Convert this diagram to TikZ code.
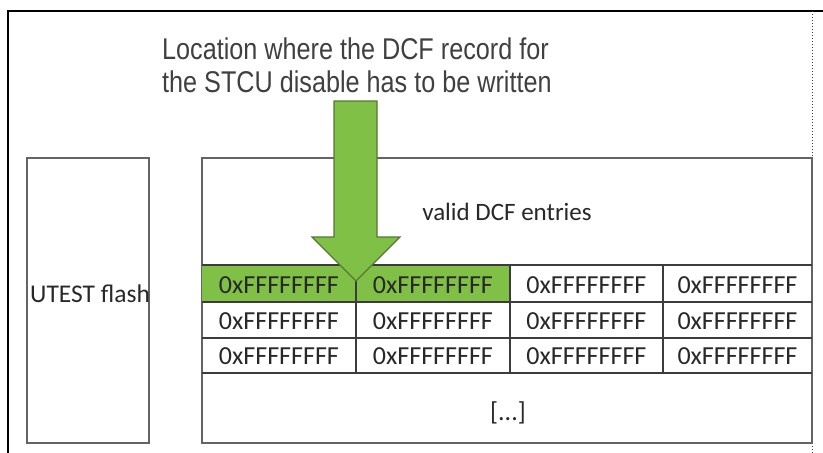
\documentclass[tikz,border=0pt]{standalone}
\usepackage{fontspec}
\setmainfont{Carlito}
\newfontfamily\narrowfont[FakeStretch=0.84]{Liberation Sans}
\definecolor{cellgreen}{RGB}{128,192,70}
\definecolor{arrowline}{RGB}{85,120,50}
\definecolor{boxgray}{RGB}{100,100,100}
\definecolor{gridline}{RGB}{60,60,60}
\definecolor{txt}{RGB}{40,40,40}
\definecolor{titletxt}{RGB}{64,64,64}
\begin{document}
\begin{tikzpicture}[x=1pt,y=-1pt,
  boxline/.style={draw=boxgray,line width=1.6pt},
  grid/.style={draw=gridline,line width=1.2pt},
  celltext/.style={font=\fontsize{26}{30}\selectfont,text=txt,inner sep=0pt},
  titlefont/.style={font=\narrowfont\fontsize{30}{33}\selectfont,text=titletxt,inner sep=0pt,align=left}]
\useasboundingbox (0,0) rectangle (823,453);
\fill[white] (0,0) rectangle (823,453);
% outer frame
\draw[black,line width=1.4pt] (8,453) -- (8,11) -- (823,11);
\draw[gridline,line width=1pt,dotted] (812,11) -- (812,453);
% title
\node[titlefont,anchor=base west] (title) at (162,92) {Location where the DCF record for\\the STCU disable has to be written};
% UTEST flash box
\draw[boxline] (27,158) rectangle (149,443);
\node[celltext,font=\fontsize{25.5}{30}\selectfont,anchor=base west] (utest) at (30,302) {UTEST flash};
% large box
\draw[boxline] (202,158) rectangle (812,443);
\node[celltext,font=\fontsize{25}{30}\selectfont,anchor=base] (valid) at (507,220) {valid DCF entries};
% green cells
\fill[cellgreen] (202,265) rectangle (510,302);
% table grid
\draw[grid] (202,265) -- (812,265);
\draw[grid] (202,302) -- (812,302);
\draw[grid] (202,338) -- (812,338);
\draw[grid] (202,373) -- (812,373);
\foreach \cx in {356,510,663} {\draw[grid] (\cx,265) -- (\cx,373);}
% cell texts
\foreach \r/\by in {1/293,2/329,3/364} {
  \foreach \c/\cxx in {1/279,2/433,3/586.5,4/737.5} {
    \node[celltext,anchor=base] (c\r\c) at (\cxx,\by) {0xFFFFFFFF};
  }
}
\node[celltext,anchor=base] (dots) at (508,420) {[...]};
% big arrow
\draw[fill=cellgreen,draw=arrowline,line width=1.2pt,line join=miter]
  (334,101) -- (377,101) -- (377,237) -- (400,237) -- (356,281) -- (312,237) -- (334,237) -- cycle;
\end{tikzpicture}
\end{document}
